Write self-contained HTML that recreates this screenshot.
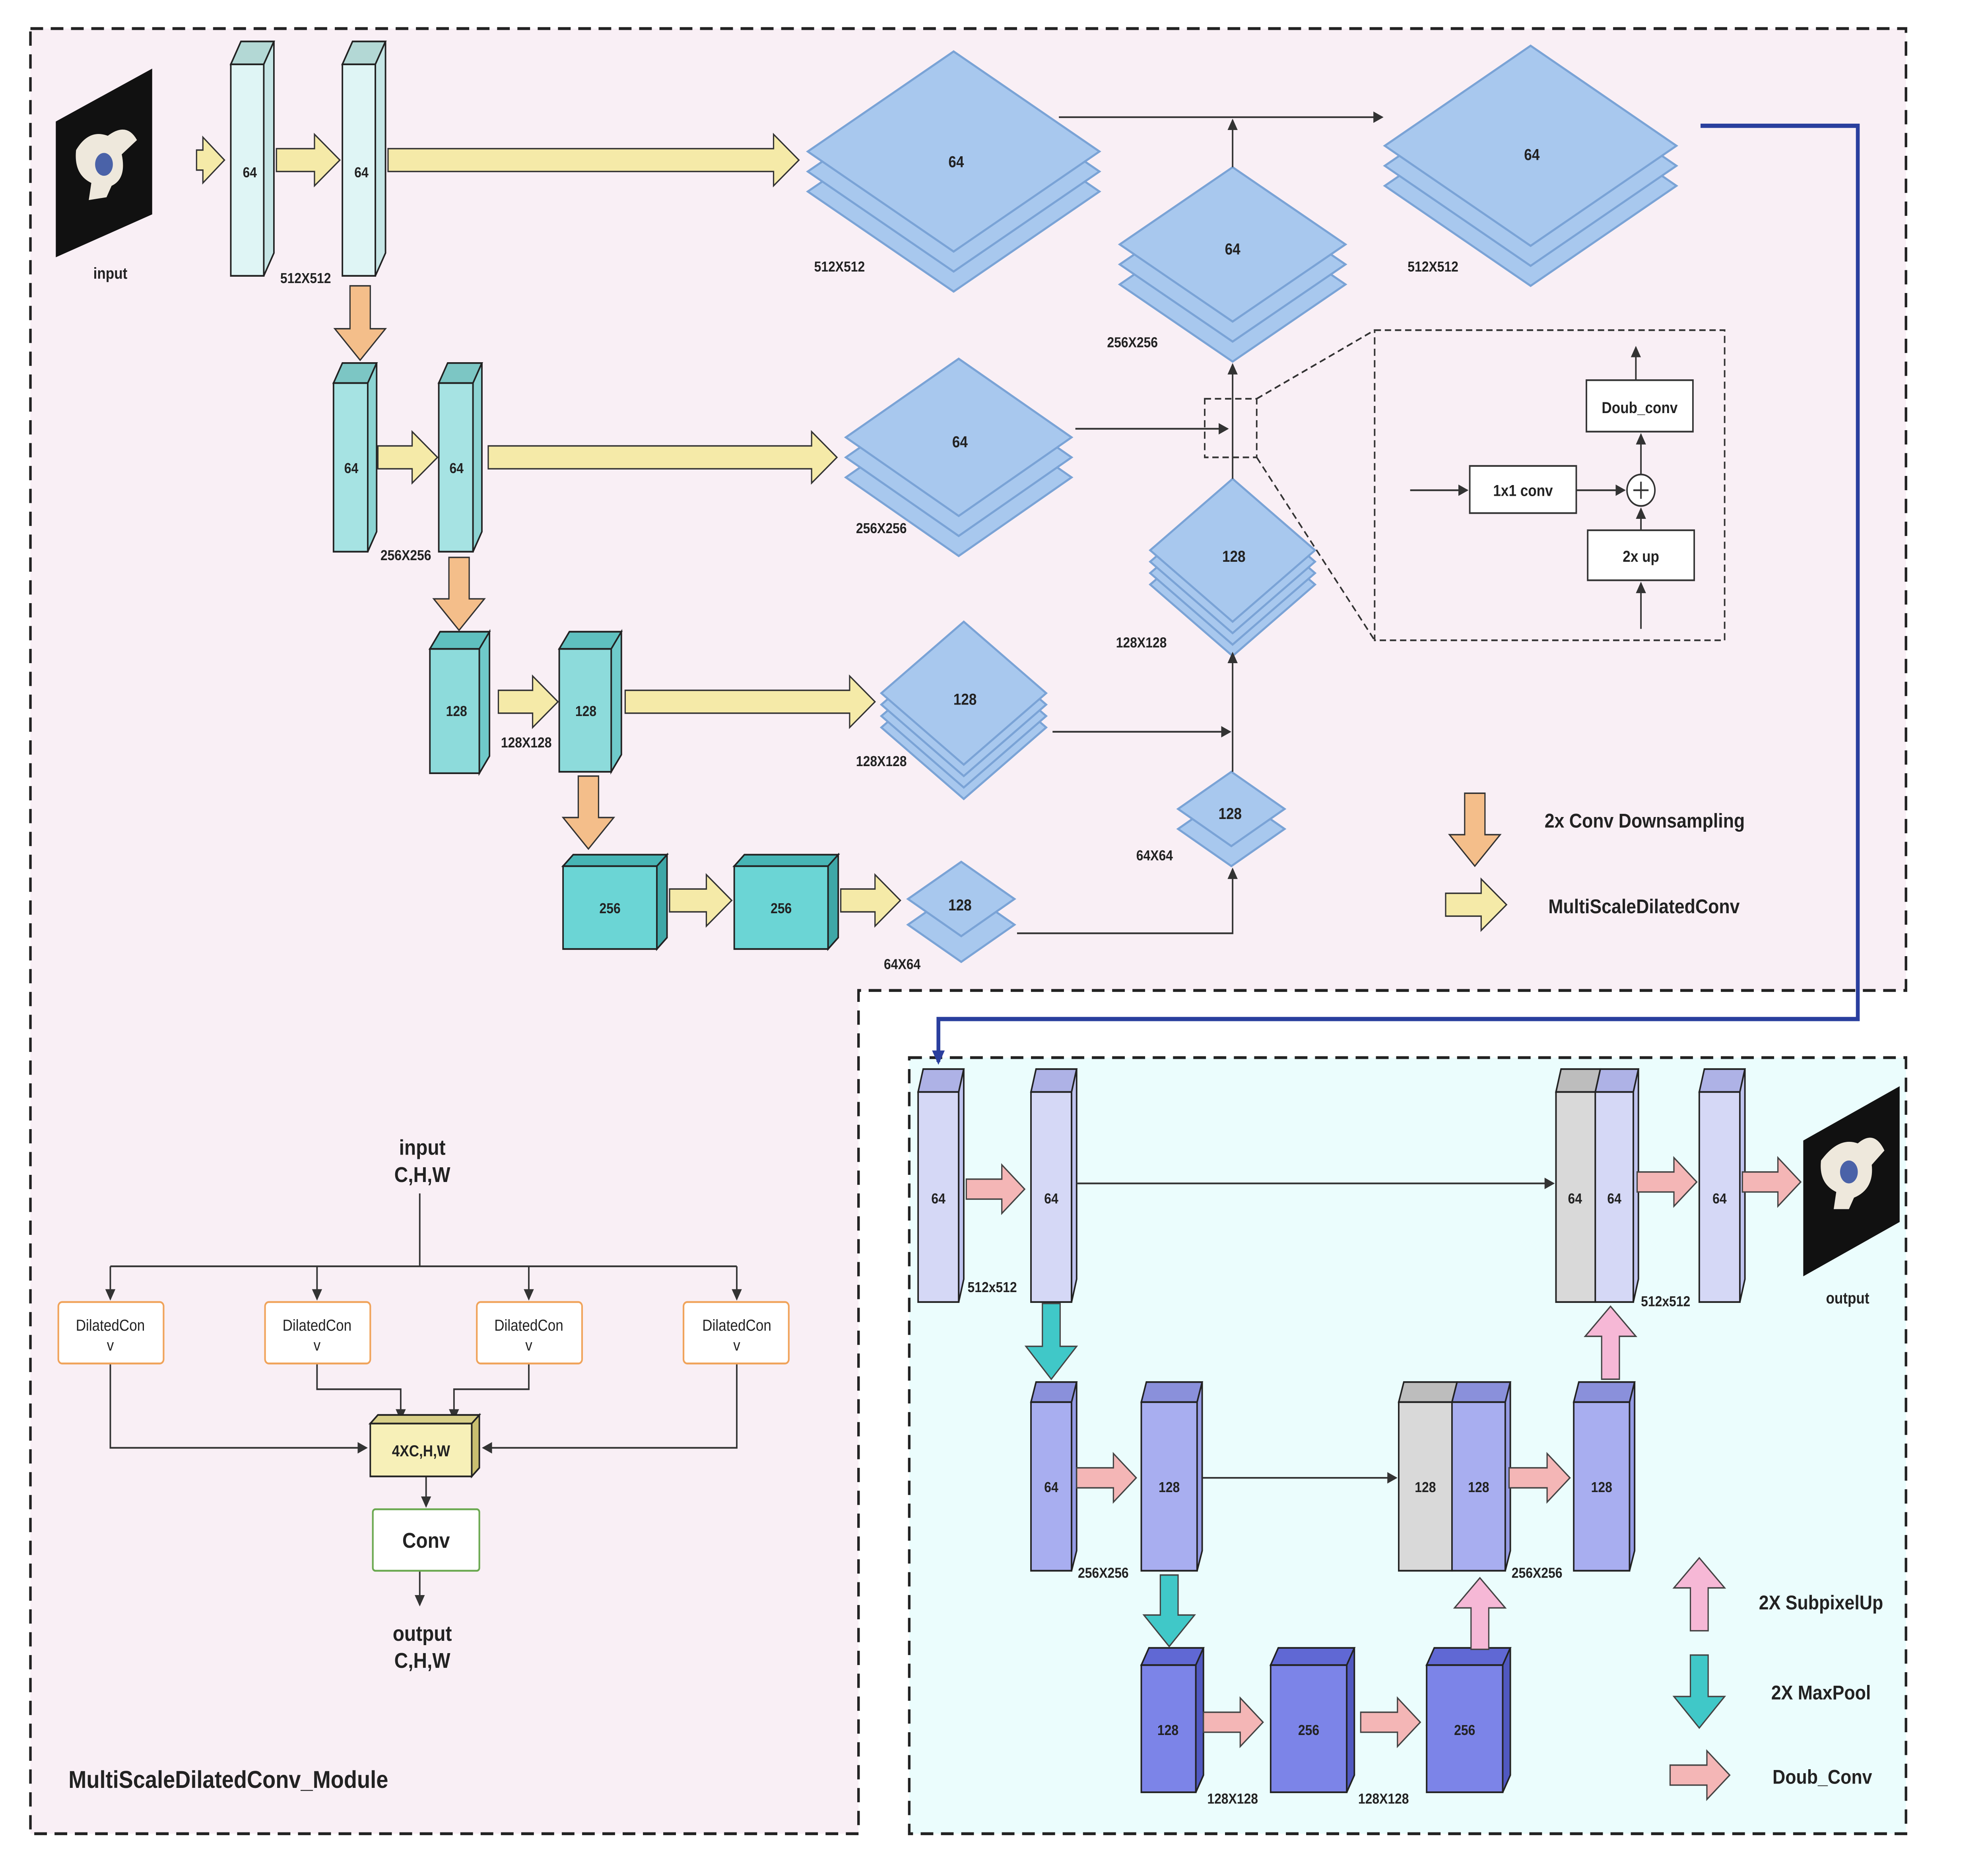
<!DOCTYPE html>
<html><head><meta charset="utf-8">
<style>
html,body{margin:0;padding:0;background:#fff;overflow:hidden;width:100vw;height:100vh;}
svg{display:block;position:absolute;left:0;top:0;width:100vw;height:100vh;}
text{font-family:"Liberation Sans","DejaVu Sans",sans-serif;fill:#222;}
.b{font-weight:bold;}
</style></head><body>
<svg xmlns="http://www.w3.org/2000/svg" viewBox="0 0 1552 1292" preserveAspectRatio="none">
<defs>
<marker id="ar" markerWidth="8" markerHeight="8" refX="7" refY="4" orient="auto" markerUnits="userSpaceOnUse">
<path d="M0,0 L8,4 L0,8 Z" fill="#333"/></marker>
<marker id="arb" markerWidth="10" markerHeight="10" refX="8" refY="5" orient="auto" markerUnits="userSpaceOnUse">
<path d="M0,0 L10,5 L0,10 Z" fill="#2a3f9e"/></marker>
</defs>
<rect width="1552" height="1292" fill="#fff"/>
<g transform="scale(0.99,0.988)">
<path d="M24,20 H1503 V693 H677 V1283 H24 Z" fill="#f9eff5" stroke="#222" stroke-width="2" stroke-dasharray="10,6"/>
<rect x="717" y="740" width="786" height="543" fill="#ebfdfd" stroke="#222" stroke-width="2" stroke-dasharray="10,6"/>
<path d="M1341,88 H1465 V713 H740 V743" fill="none" stroke="#2a3f9e" stroke-width="3" marker-end="url(#arb)"/>

<polygon points="44,85 120,48 120,150 44,180" fill="#111"/>
<path d="M60,105 Q70,90 85,95 Q100,85 108,98 L96,108 Q100,125 88,130 L84,138 L70,140 L72,128 Q58,122 60,105Z" fill="#eee8dc"/>
<ellipse cx="82" cy="115" rx="7" ry="8" fill="#4a62a8"/>
<text x="87" y="195" font-size="11" class="b" text-anchor="middle">input</text>

<g stroke="#222" stroke-width="1.2">
<rect x="182" y="45" width="26" height="148" fill="#dff5f5"/><polygon points="182,45 190,29 216,29 208,45" fill="#b3d8d5"/><polygon points="208,45 216,29 216,177 208,193" fill="#c6e6e6"/>
<rect x="270" y="45" width="26" height="148" fill="#dff5f5"/><polygon points="270,45 278,29 304,29 296,45" fill="#b3d8d5"/><polygon points="296,45 304,29 304,177 296,193" fill="#c6e6e6"/>
<rect x="263" y="268" width="27" height="118" fill="#a6e3e3"/><polygon points="263,268 270,254 297,254 290,268" fill="#7cc6c4"/><polygon points="290,268 297,254 297,372 290,386" fill="#8cd4d3"/>
<rect x="346" y="268" width="27" height="118" fill="#a6e3e3"/><polygon points="346,268 353,254 380,254 373,268" fill="#7cc6c4"/><polygon points="373,268 380,254 380,372 373,386" fill="#8cd4d3"/>
<rect x="339" y="454" width="39" height="87" fill="#8ddbdb"/><polygon points="339,454 347,442 386,442 378,454" fill="#5fc0bf"/><polygon points="378,454 386,442 386,529 378,541" fill="#6fcaca"/>
<rect x="441" y="454" width="41" height="86" fill="#8ddbdb"/><polygon points="441,454 449,442 490,442 482,454" fill="#5fc0bf"/><polygon points="482,454 490,442 490,528 482,540" fill="#6fcaca"/>
<rect x="444" y="606" width="74" height="58" fill="#6bd5d5"/><polygon points="444,606 452,598 526,598 518,606" fill="#47b5b5"/><polygon points="518,606 526,598 526,656 518,664" fill="#3ea7a7"/>
<rect x="579" y="606" width="74" height="58" fill="#6bd5d5"/><polygon points="579,606 587,598 661,598 653,606" fill="#47b5b5"/><polygon points="653,606 661,598 661,656 653,664" fill="#3ea7a7"/>
</g>
<g font-size="10" class="b" text-anchor="middle">
<text x="197" y="124" class="b">64</text><text x="285" y="124" class="b">64</text>
<text x="277" y="331" class="b">64</text><text x="360" y="331" class="b">64</text>
<text x="360" y="501" class="b">128</text><text x="462" y="501" class="b">128</text>
<text x="481" y="639" class="b">256</text><text x="616" y="639" class="b">256</text>
</g>
<g font-size="10" class="b">
<text x="221" y="198" class="b">512X512</text>
<text x="300" y="392" class="b">256X256</text>
<text x="395" y="523" class="b">128X128</text>
</g>

<g fill="#f5eaa8" stroke="#333" stroke-width="1">
<path d="M155,105 H160 V96 L177,112 L160,128 V119 H155Z"/>
<path d="M218,104 H248 V94 L268,112 L248,130 V120 H218Z"/>
<path d="M306,104 H610 V94 L630,112 L610,130 V120 H306Z"/>
<path d="M298,312 H325 V302 L345,320 L325,338 V328 H298Z"/>
<path d="M385,312 H640 V302 L660,320 L640,338 V328 H385Z"/>
<path d="M393,483 H420 V473 L440,491 L420,509 V499 H393Z"/>
<path d="M493,483 H670 V473 L690,491 L670,509 V499 H493Z"/>
<path d="M528,622 H557 V612 L577,630 L557,648 V638 H528Z"/>
<path d="M663,622 H690 V612 L710,630 L690,648 V638 H663Z"/>
<path d="M1140,625 H1168 V615 L1188,633 L1168,651 V641 H1140Z"/>
</g>
<g fill="#f4be8a" stroke="#333" stroke-width="1">
<path d="M276,200 V230 H264 L284,252 L304,230 H292 V200Z"/>
<path d="M354,390 V419 H342 L362,441 L382,419 H370 V390Z"/>
<path d="M456,543 V572 H444 L464,594 L484,572 H472 V543Z"/>
<path d="M1155,555 V584 H1143 L1163,606 L1183,584 H1171 V555Z"/>
</g>

<g fill="#a8c8ee" stroke="#7aa3d6" stroke-width="1.5">
<polygon points="752,64 867,134 752,204 637,134"/><polygon points="752,50 867,120 752,190 637,120"/><polygon points="752,36 867,106 752,176 637,106"/>
<polygon points="1207,60 1322,130 1207,200 1092,130"/><polygon points="1207,46 1322,116 1207,186 1092,116"/><polygon points="1207,32 1322,102 1207,172 1092,102"/>
<polygon points="972,145 1061,199 972,253 883,199"/><polygon points="972,131 1061,185 972,239 883,185"/><polygon points="972,117 1061,171 972,225 883,171"/>
<polygon points="756,279 845,334 756,389 667,334"/><polygon points="756,265 845,320 756,375 667,320"/><polygon points="756,251 845,306 756,361 667,306"/>
<polygon points="972,359 1037,409 972,459 907,409"/><polygon points="972,351 1037,401 972,451 907,401"/><polygon points="972,343 1037,393 972,443 907,393"/><polygon points="972,335 1037,385 972,435 907,385"/>
<polygon points="760,459 825,509 760,559 695,509"/><polygon points="760,451 825,501 760,551 695,501"/><polygon points="760,443 825,493 760,543 695,493"/><polygon points="760,435 825,485 760,535 695,485"/>
<polygon points="971,554 1013,580 971,606 929,580"/><polygon points="971,540 1013,566 971,592 929,566"/>
<polygon points="758,621 800,647 758,673 716,647"/><polygon points="758,603 800,629 758,655 716,629"/>
</g>
<g font-size="11" class="b" text-anchor="middle">
<text x="754" y="117" class="b">64</text><text x="1208" y="112" class="b">64</text>
<text x="972" y="178" class="b">64</text><text x="757" y="313" class="b">64</text>
<text x="973" y="393" class="b">128</text><text x="761" y="493" class="b">128</text>
<text x="970" y="573" class="b">128</text><text x="757" y="637" class="b">128</text>
</g>
<g font-size="10" class="b">
<text x="642" y="190" class="b">512X512</text><text x="1110" y="190" class="b">512X512</text>
<text x="873" y="243" class="b">256X256</text><text x="675" y="373" class="b">256X256</text>
<text x="880" y="453" class="b">128X128</text><text x="675" y="536" class="b">128X128</text>
<text x="896" y="602" class="b">64X64</text><text x="697" y="678" class="b">64X64</text>
</g>
<g stroke="#333" stroke-width="1.2" fill="none">
<line x1="835" y1="82" x2="1090" y2="82" marker-end="url(#ar)"/>
<line x1="972" y1="117" x2="972" y2="84" marker-end="url(#ar)"/>
<line x1="848" y1="300" x2="968" y2="300" marker-end="url(#ar)"/>
<line x1="972" y1="335" x2="972" y2="255" marker-end="url(#ar)"/>
<line x1="830" y1="512" x2="970" y2="512" marker-end="url(#ar)"/>
<line x1="972" y1="540" x2="972" y2="457" marker-end="url(#ar)"/>
<path d="M802,653 H972 V608" marker-end="url(#ar)"/>
</g>
<g stroke="#333" stroke-width="1.2" fill="none" stroke-dasharray="5,3">
<rect x="950" y="279" width="41" height="41"/>
<rect x="1084" y="231" width="276" height="217"/>
<line x1="991" y1="279" x2="1084" y2="231"/>
<line x1="991" y1="320" x2="1084" y2="448"/>
</g>
<g stroke="#333" stroke-width="1.2" fill="#fff">
<rect x="1159" y="326" width="84" height="33"/>
<rect x="1252" y="371" width="84" height="35"/>
<rect x="1251" y="266" width="84" height="36"/>
<circle cx="1294" cy="343" r="11"/>
</g>
<g stroke="#333" stroke-width="1.2" fill="none">
<line x1="1112" y1="343" x2="1157" y2="343" marker-end="url(#ar)"/>
<line x1="1243" y1="343" x2="1281" y2="343" marker-end="url(#ar)"/>
<line x1="1294" y1="440" x2="1294" y2="408" marker-end="url(#ar)"/>
<line x1="1294" y1="371" x2="1294" y2="356" marker-end="url(#ar)"/>
<line x1="1294" y1="332" x2="1294" y2="304" marker-end="url(#ar)"/>
<line x1="1290" y1="266" x2="1290" y2="243" marker-end="url(#ar)"/>
<line x1="1288" y1="343" x2="1300" y2="343"/><line x1="1294" y1="337" x2="1294" y2="349"/>
</g>
<g font-size="11" class="b" text-anchor="middle">
<text x="1201" y="347" class="b">1x1 conv</text>
<text x="1294" y="393" class="b">2x up</text>
<text x="1293" y="289" class="b">Doub_conv</text>
</g>
<text x="1218" y="579" font-size="14" class="b">2x Conv Downsampling</text>
<text x="1221" y="639" font-size="14" class="b">MultiScaleDilatedConv</text>

<g font-size="15" class="b" text-anchor="middle">
<text x="333" y="808" class="b">input</text><text x="333" y="827" class="b">C,H,W</text>
<text x="333" y="1148" class="b">output</text><text x="333" y="1167" class="b">C,H,W</text>
</g>
<g stroke="#333" stroke-width="1.2" fill="none">
<line x1="331" y1="835" x2="331" y2="886"/>
<line x1="87" y1="886" x2="581" y2="886"/>
<line x1="87" y1="886" x2="87" y2="909" marker-end="url(#ar)"/>
<line x1="250" y1="886" x2="250" y2="909" marker-end="url(#ar)"/>
<line x1="417" y1="886" x2="417" y2="909" marker-end="url(#ar)"/>
<line x1="581" y1="886" x2="581" y2="909" marker-end="url(#ar)"/>
<path d="M87,954 V1013 H289" marker-end="url(#ar)"/>
<path d="M250,954 V972 H316 V993" marker-end="url(#ar)"/>
<path d="M417,954 V972 H358 V993" marker-end="url(#ar)"/>
<path d="M581,954 V1013 H381" marker-end="url(#ar)"/>
<line x1="336" y1="1033" x2="336" y2="1054" marker-end="url(#ar)"/>
<line x1="331" y1="1099" x2="331" y2="1123" marker-end="url(#ar)"/>
</g>
<g fill="#fff" stroke="#f0a35a" stroke-width="1.3">
<rect x="46" y="911" width="83" height="43" rx="3"/><rect x="209" y="911" width="83" height="43" rx="3"/>
<rect x="376" y="911" width="83" height="43" rx="3"/><rect x="539" y="911" width="83" height="43" rx="3"/>
</g>
<g font-size="11" text-anchor="middle">
<text x="87" y="931">DilatedCon</text><text x="87" y="945">v</text>
<text x="250" y="931">DilatedCon</text><text x="250" y="945">v</text>
<text x="417" y="931">DilatedCon</text><text x="417" y="945">v</text>
<text x="581" y="931">DilatedCon</text><text x="581" y="945">v</text>
</g>
<g stroke="#222" stroke-width="1.2">
<rect x="292" y="996" width="80" height="37" fill="#f7f0b8"/>
<polygon points="292,996 298,990 378,990 372,996" fill="#d8cf88"/>
<polygon points="372,996 378,990 378,1027 372,1033" fill="#c9bf70"/>
</g>
<text x="332" y="1019" font-size="11" class="b" text-anchor="middle">4XC,H,W</text>
<rect x="294" y="1056" width="84" height="43" fill="#fff" stroke="#6aa84f" stroke-width="1.3" rx="2"/>
<text x="336" y="1083" font-size="15" class="b" text-anchor="middle">Conv</text>
<text x="54" y="1251" font-size="17" class="b">MultiScaleDilatedConv_Module</text>

<g stroke="#222" stroke-width="1.2">
<rect x="724" y="764" width="32" height="147" fill="#d5d8f6"/><polygon points="724,764 728,748 760,748 756,764" fill="#aeb2e6"/><polygon points="756,764 760,748 760,895 756,911" fill="#bfc3ee"/>
<rect x="813" y="764" width="32" height="147" fill="#d5d8f6"/><polygon points="813,764 817,748 849,748 845,764" fill="#aeb2e6"/><polygon points="845,764 849,748 849,895 845,911" fill="#bfc3ee"/>
<rect x="1227" y="764" width="31" height="147" fill="#d9d9d9"/><polygon points="1227,764 1231,748 1262,748 1258,764" fill="#bdbdbd"/>
<rect x="1258" y="764" width="30" height="147" fill="#d5d8f6"/><polygon points="1258,764 1262,748 1292,748 1288,764" fill="#aeb2e6"/><polygon points="1288,764 1292,748 1292,895 1288,911" fill="#bfc3ee"/>
<rect x="1340" y="764" width="32" height="147" fill="#d5d8f6"/><polygon points="1340,764 1344,748 1376,748 1372,764" fill="#aeb2e6"/><polygon points="1372,764 1376,748 1376,895 1372,911" fill="#bfc3ee"/>

<rect x="813" y="981" width="32" height="118" fill="#a8aef0"/><polygon points="813,981 817,967 849,967 845,981" fill="#8a90db"/><polygon points="845,981 849,967 849,1085 845,1099" fill="#959be4"/>
<rect x="900" y="981" width="44" height="118" fill="#a8aef0"/><polygon points="900,981 904,967 948,967 944,981" fill="#8a90db"/><polygon points="944,981 948,967 948,1085 944,1099" fill="#959be4"/>
<rect x="1103" y="981" width="42" height="118" fill="#d9d9d9"/><polygon points="1103,981 1107,967 1149,967 1145,981" fill="#bdbdbd"/>
<rect x="1145" y="981" width="42" height="118" fill="#a8aef0"/><polygon points="1145,981 1149,967 1191,967 1187,981" fill="#8a90db"/><polygon points="1187,981 1191,967 1191,1085 1187,1099" fill="#959be4"/>
<rect x="1241" y="981" width="44" height="118" fill="#a8aef0"/><polygon points="1241,981 1245,967 1289,967 1285,981" fill="#8a90db"/><polygon points="1285,981 1289,967 1289,1085 1285,1099" fill="#959be4"/>

<rect x="900" y="1165" width="43" height="89" fill="#7c84e8"/><polygon points="900,1165 906,1153 949,1153 943,1165" fill="#6068d4"/><polygon points="943,1165 949,1153 949,1242 943,1254" fill="#5058c0"/>
<rect x="1002" y="1165" width="60" height="89" fill="#7c84e8"/><polygon points="1002,1165 1008,1153 1068,1153 1062,1165" fill="#6068d4"/><polygon points="1062,1165 1068,1153 1068,1242 1062,1254" fill="#5058c0"/>
<rect x="1125" y="1165" width="60" height="89" fill="#7c84e8"/><polygon points="1125,1165 1131,1153 1191,1153 1185,1165" fill="#6068d4"/><polygon points="1185,1165 1191,1153 1191,1242 1185,1254" fill="#5058c0"/>
</g>
<g font-size="10" class="b" text-anchor="middle">
<text x="740" y="842" class="b">64</text><text x="829" y="842" class="b">64</text>
<text x="1242" y="842" class="b">64</text><text x="1273" y="842" class="b">64</text><text x="1356" y="842" class="b">64</text>
<text x="829" y="1044" class="b">64</text><text x="922" y="1044" class="b">128</text>
<text x="1124" y="1044" class="b">128</text><text x="1166" y="1044" class="b">128</text><text x="1263" y="1044" class="b">128</text>
<text x="921" y="1214" class="b">128</text><text x="1032" y="1214" class="b">256</text><text x="1155" y="1214" class="b">256</text>
</g>
<g font-size="10" class="b">
<text x="763" y="904" class="b">512x512</text><text x="1294" y="914" class="b">512x512</text>
<text x="850" y="1104" class="b">256X256</text><text x="1192" y="1104" class="b">256X256</text>
<text x="952" y="1262" class="b">128X128</text><text x="1071" y="1262" class="b">128X128</text>
</g>
<g stroke="#333" stroke-width="1.2" fill="none">
<line x1="849" y1="828" x2="1225" y2="828" marker-end="url(#ar)"/>
<line x1="948" y1="1034" x2="1101" y2="1034" marker-end="url(#ar)"/>
</g>
<g fill="#f4b6b6" stroke="#444" stroke-width="1">
<path d="M762,825 H790 V815 L808,832 L790,849 V839 H762Z"/>
<path d="M1291,820 H1320 V810 L1338,827 L1320,844 V834 H1291Z"/>
<path d="M1374,820 H1402 V810 L1420,827 L1402,844 V834 H1374Z"/>
<path d="M849,1027 H878 V1017 L896,1034 L878,1051 V1041 H849Z"/>
<path d="M1190,1027 H1220 V1017 L1238,1034 L1220,1051 V1041 H1190Z"/>
<path d="M949,1198 H978 V1188 L996,1205 L978,1222 V1212 H949Z"/>
<path d="M1073,1198 H1102 V1188 L1120,1205 L1102,1222 V1212 H1073Z"/>
<path d="M1317,1235 H1346 V1225 L1364,1242 L1346,1259 V1249 H1317Z"/>
</g>
<g fill="#f6b8d6" stroke="#444" stroke-width="1">
<path d="M1263,965 V935 H1250 L1270,914 L1290,935 H1277 V965Z"/>
<path d="M1160,1154 V1125 H1147 L1167,1104 L1187,1125 H1174 V1154Z"/>
<path d="M1333,1141 V1111 H1320 L1340,1090 L1360,1111 H1347 V1141Z"/>
</g>
<g fill="#40c8c8" stroke="#444" stroke-width="1">
<path d="M822,912 V942 H809 L829,965 L849,942 H836 V912Z"/>
<path d="M915,1102 V1130 H902 L922,1152 L942,1130 H929 V1102Z"/>
<path d="M1333,1158 V1187 H1320 L1340,1209 L1360,1187 H1347 V1158Z"/>
</g>
<polygon points="1422,798 1498,760 1498,855 1422,893" fill="#111"/>
<path d="M1436,812 Q1450,795 1465,800 Q1478,790 1486,805 L1476,815 Q1478,832 1462,838 L1458,846 L1446,846 L1448,834 Q1434,828 1436,812Z" fill="#eee8dc"/>
<ellipse cx="1458" cy="820" rx="7" ry="8" fill="#4a62a8"/>
<text x="1457" y="912" font-size="11" class="b" text-anchor="middle">output</text>
<text x="1436" y="1126" font-size="14" class="b" text-anchor="middle">2X SubpixelUp</text>
<text x="1436" y="1189" font-size="14" class="b" text-anchor="middle">2X MaxPool</text>
<text x="1437" y="1248" font-size="14" class="b" text-anchor="middle">Doub_Conv</text>
</g>
</svg>
</body></html>
